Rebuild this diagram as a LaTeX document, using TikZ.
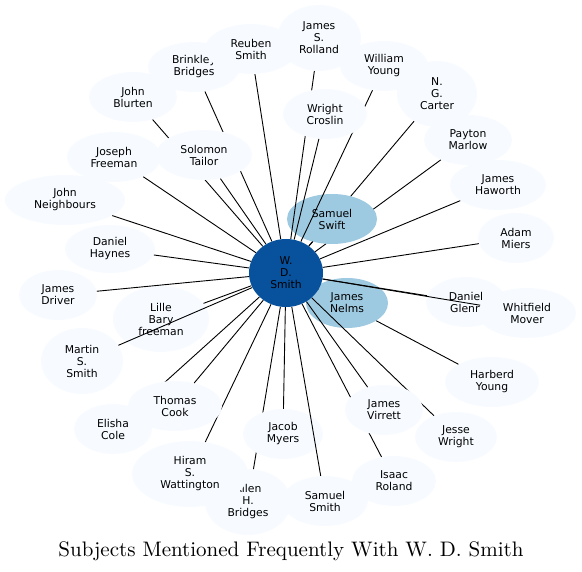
\documentclass[tikz,border=0pt]{standalone}
\usepackage{fontspec}
\newfontfamily\dejavu{DejaVu Sans}
\newfontfamily\titlefont{lmroman10-regular}[Extension=.otf]
\usetikzlibrary{shapes.geometric}
\definecolor{lightnode}{HTML}{F7FBFF}
\definecolor{midnode}{HTML}{9ECAE1}
\definecolor{darknode}{HTML}{08519C}
\begin{document}
\begin{tikzpicture}[x=1pt,y=-1pt,
  person/.style={ellipse, fill=lightnode, inner sep=0pt, align=center, text=black,
    font=\dejavu\fontsize{10.8}{12}\selectfont},
  link/.style={line width=0.9pt, black}]
\useasboundingbox (0,0) rectangle (582,572);
\node[ellipse, minimum width=74pt, minimum height=68pt, inner sep=0pt] (wd) at (286,273) {};

\node[person, minimum width=80pt, minimum height=66pt] (carter) at (437,94) {N.\\G.\\Carter};
\draw[link] (wd) -- (carter);
\node[person, minimum width=88pt, minimum height=50pt] (marlow) at (468,140) {Payton\\Marlow};
\draw[link] (wd) -- (marlow);
\node[person, fill=midnode, minimum width=90pt, minimum height=50pt] (swift) at (332,219) {Samuel\\Swift};
\draw[link] (wd) -- (swift);
\node[person, minimum width=84pt, minimum height=66pt] (rolland) at (319,38) {James\\S.\\Rolland};
\draw[link] (wd) -- (rolland);
\node[person, minimum width=88pt, minimum height=50pt] (wyoung) at (384,66) {William\\Young};
\draw[link] (wd) -- (wyoung);
\node[person, minimum width=84pt, minimum height=50pt] (croslin) at (325,114) {Wright\\Croslin};
\draw[link] (wd) -- (croslin);
\node[person, minimum width=92pt, minimum height=50pt] (brinkley) at (194,67) {Brinkley\\Bridges};
\draw[link] (wd) -- (brinkley);
\node[person, minimum width=88pt, minimum height=50pt] (blurten) at (133,97) {John\\Blurten};
\draw[link] (wd) -- (blurten);
\node[person, minimum width=92pt, minimum height=50pt] (reuben) at (251,49) {Reuben\\Smith};
\draw[link] (wd) -- (reuben);
\node[person, minimum width=96pt, minimum height=50pt] (solomon) at (204,155) {Solomon\\Tailor};
\draw[link] (wd) -- (solomon);
\node[person, minimum width=96pt, minimum height=50pt] (haworth) at (498,185) {James\\Haworth};
\draw[link] (wd) -- (haworth);
\node[person, minimum width=76pt, minimum height=50pt] (miers) at (516,238) {Adam\\Miers};
\draw[link] (wd) -- (miers);
\node[person, minimum width=94pt, minimum height=50pt] (harberd) at (492,382) {Harberd\\Young};
\draw[link] (wd) -- (harberd);
\node[person, fill=midnode, minimum width=82pt, minimum height=50pt] (nelms) at (347,303) {James\\Nelms};
\draw[link] (wd) -- (nelms);
\node[person, minimum width=80pt, minimum height=50pt] (glenn) at (466,302) {Daniel\\Glenn};
\draw[link] (wd) -- (glenn);
\node[person, minimum width=98pt, minimum height=50pt] (whitfield) at (527,313) {Whitfield\\Mover};
\draw[link] (wd) -- (whitfield);
\node[person, minimum width=82pt, minimum height=50pt] (jesse) at (456,437) {Jesse\\Wright};
\draw[link] (wd) -- (jesse);
\node[person, minimum width=84pt, minimum height=50pt] (isaac) at (394,481) {Isaac\\Roland};
\draw[link] (wd) -- (isaac);
\node[person, minimum width=78pt, minimum height=50pt] (virrett) at (384,410) {James\\Virrett};
\draw[link] (wd) -- (virrett);
\node[person, minimum width=86pt, minimum height=66pt] (allen) at (248,502) {Allen\\H.\\Bridges};
\draw[link] (wd) -- (allen);
\node[person, minimum width=80pt, minimum height=50pt] (myers) at (283,434) {Jacob\\Myers};
\draw[link] (wd) -- (myers);
\node[person, minimum width=86pt, minimum height=50pt] (ssmith) at (325,501) {Samuel\\Smith};
\draw[link] (wd) -- (ssmith);
\node[person, minimum width=116pt, minimum height=66pt] (hiram) at (190,474) {Hiram\\S.\\Wattington};
\draw[link] (wd) -- (hiram);
\node[person, minimum width=78pt, minimum height=50pt] (elisha) at (113,429) {Elisha\\Cole};
\draw[link] (wd) -- (elisha);
\node[person, minimum width=94pt, minimum height=50pt] (cook) at (175,406) {Thomas\\Cook};
\draw[link] (wd) -- (cook);
\node[person, minimum width=96pt, minimum height=66pt] (lille) at (161,319) {Lille\\Bary\\freeman};
\draw[link] (wd) -- (lille);
\node[person, minimum width=82pt, minimum height=66pt] (martin) at (82,361) {Martin\\S.\\Smith};
\draw[link] (wd) -- (martin);
\node[person, minimum width=78pt, minimum height=50pt] (driver) at (58,295) {James\\Driver};
\draw[link] (wd) -- (driver);
\node[person, minimum width=90pt, minimum height=48pt] (haynes) at (110,249) {Daniel\\Haynes};
\draw[link] (wd) -- (haynes);
\node[person, minimum width=120pt, minimum height=50pt] (neighbours) at (65,200) {John\\Neighbours};
\draw[link] (wd) -- (neighbours);
\node[person, minimum width=94pt, minimum height=50pt] (joseph) at (114,157) {Joseph\\Freeman};
\draw[link] (wd) -- (joseph);

\node[person, fill=darknode, minimum width=74pt, minimum height=68pt] (wdlabel) at (286,273) {W.\\D.\\Smith};

\node[font=\titlefont\fontsize{21}{25}\selectfont, inner sep=0pt] (title) at (291,551) {Subjects Mentioned Frequently With W. D. Smith};
\end{tikzpicture}
\end{document}
